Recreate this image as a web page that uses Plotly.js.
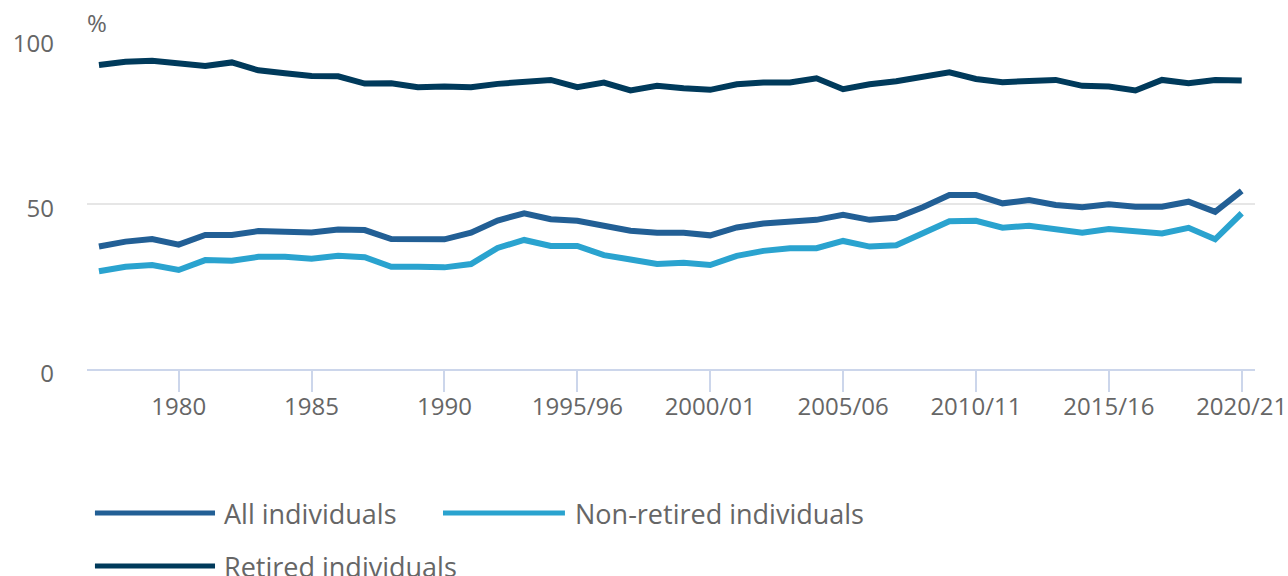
<!DOCTYPE html>
<html>
<head>
<meta charset="utf-8">
<script src="https://cdn.plot.ly/plotly-3.0.1.min.js"></script>
<style>html,body{margin:0;padding:0;background:#fff;}#chart{width:1288px;height:576px;}</style>
</head>
<body>
<div id="chart"></div>
<script>
const years = ['1977','1978','1979','1980','1981','1982','1983','1984','1985','1986','1987','1988','1989','1990','1991','1992','1993',
  '1994/95','1995/96','1996/97','1997/98','1998/99','1999/00','2000/01','2001/02','2002/03','2003/04','2004/05','2005/06','2006/07',
  '2007/08','2008/09','2009/10','2010/11','2011/12','2012/13','2013/14','2014/15','2015/16','2016/17','2017/18','2018/19','2019/20','2020/21'];

const allIndividuals = [37.1,38.6,39.4,37.7,40.6,40.6,41.8,41.7,41.4,42.3,42.1,39.4,39.5,39.3,41.3,45.0,47.2,
  45.4,44.9,43.3,41.9,41.3,41.3,40.5,42.9,44.1,44.8,45.2,46.7,45.2,45.8,49.0,52.7,52.7,50.2,51.2,49.7,49.0,49.9,49.2,49.2,50.7,47.6,54.0];

const nonRetired = [29.6,31.0,31.5,30.0,33.0,32.8,34.0,34.0,33.4,34.3,33.9,31.0,31.0,30.8,31.8,36.7,39.1,
  37.3,37.3,34.5,33.2,31.8,32.2,31.5,34.3,35.8,36.6,36.6,38.8,37.1,37.5,41.1,44.8,44.9,42.8,43.4,42.4,41.3,42.4,41.8,41.1,42.8,39.3,47.2];

const retired = [92.1,93.1,93.4,92.7,91.8,92.9,90.5,89.6,88.8,88.7,86.5,86.6,85.4,85.6,85.4,86.4,86.8,
  87.6,85.4,86.8,84.4,85.8,85.1,84.6,86.3,86.8,86.8,88.1,84.8,86.3,87.2,88.4,89.9,87.9,86.9,87.3,87.6,85.8,85.6,84.4,87.6,86.6,87.6,87.4];

const tickLabels = ['1980','1985','1990','1995/96','2000/01','2005/06','2010/11','2015/16','2020/21'];
const yTicks = [0, 50, 100];

const seriesNames = ['All individuals','Non-retired individuals','Retired individuals'];
const seriesColors = ['#225f95','#2aa3cf','#003a5b'];
const seriesData = [allIndividuals, nonRetired, retired];

const traces = seriesData.map((vals, k) => ({
  type: 'scatter', mode: 'lines', name: seriesNames[k],
  x: years, y: vals,
  line: {color: seriesColors[k], width: 6},
  hoverinfo: 'x+y+name'
}));

const textColor = '#666666';
const fontFam = '"Open Sans", sans-serif';

// custom legend
const legendItems = [
  {row: -0.4364, x0: 0.0068, x1: 0.1096, tx: 0.1160},
  {row: -0.4364, x0: 0.3048, x1: 0.4092, tx: 0.4160},
  {row: -0.5970, x0: 0.0068, x1: 0.1096, tx: 0.1160}
];
const shapes = legendItems.map((it, k) => ({
  type: 'line', xref: 'paper', yref: 'paper', x0: it.x0, x1: it.x1, y0: it.row, y1: it.row,
  line: {color: seriesColors[k], width: 5}
}));
const annotations = legendItems.map((it, k) => ({
  xref: 'paper', yref: 'paper', x: it.tx, y: it.row, xanchor: 'left', yanchor: 'middle',
  text: seriesNames[k], showarrow: false, font: {family: fontFam, size: 27, color: textColor}
}));
annotations.push({
  xref: 'paper', yref: 'paper', x: -0.002, y: 1.05, xanchor: 'left', yanchor: 'middle',
  text: '%', showarrow: false, font: {family: fontFam, size: 24, color: textColor}
});

const layout = {
  width: 1288, height: 576,
  margin: {l: 87, r: 33, t: 39, b: 207},
  paper_bgcolor: '#ffffff', plot_bgcolor: '#ffffff',
  showlegend: false,
  font: {family: fontFam, color: textColor},
  xaxis: {
    type: 'category', range: [-0.45, 43.5],
    tickmode: 'array', tickvals: tickLabels, ticktext: tickLabels,
    ticks: 'outside', ticklen: 21, tickwidth: 2, tickcolor: '#ccd6eb',
    showline: true, linecolor: '#ccd6eb', linewidth: 2,
    showgrid: false, zeroline: false,
    ticklabelstandoff: -6,
    tickfont: {family: fontFam, size: 24, color: textColor}
  },
  yaxis: {
    range: [0, 100], tickmode: 'array', tickvals: yTicks, ticktext: yTicks.map(String),
    showgrid: true, gridcolor: '#e6e6e6', gridwidth: 1.5,
    zeroline: false, showline: false, ticks: '',
    ticklabelstandoff: 32, ticklabelshift: 5,
    tickfont: {family: fontFam, size: 24, color: textColor}
  },
  shapes: shapes,
  annotations: annotations
};

Plotly.newPlot('chart', traces, layout, {displayModeBar: false, staticPlot: true});
</script>
</body>
</html>
